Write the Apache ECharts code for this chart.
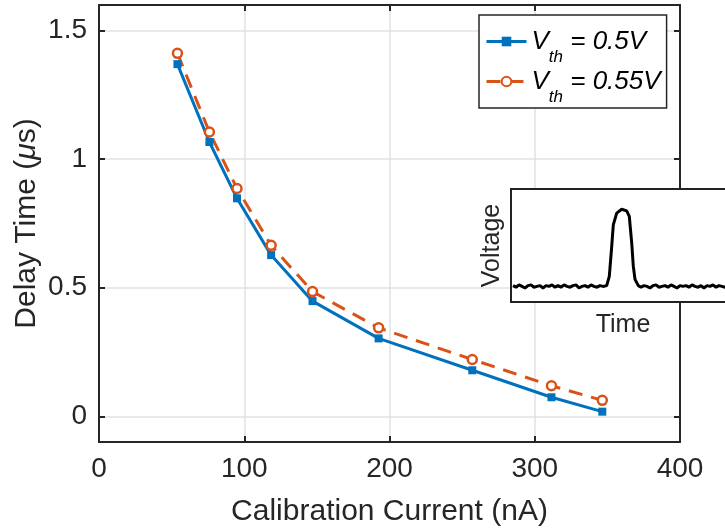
<!DOCTYPE html>
<html>
<head>
<meta charset="utf-8">
<title>Delay time vs calibration current</title>
<script src="https://cdn.jsdelivr.net/npm/echarts@6/dist/echarts.min.js"></script>
<style>
  html, body { margin: 0; padding: 0; background: #fff; }
  #main { width: 725px; height: 529px; }
</style>
</head>
<body>
<div id="main"></div>
<script>
  // calibration current (nA) and delay times (us) for the two thresholds
  var current = [54, 76, 95, 118.5, 147, 192.5, 257, 311.5, 346.5];
  var delay050 = [1.370, 1.067, 0.848, 0.627, 0.448, 0.303, 0.179, 0.074, 0.018];
  var delay055 = [1.412, 1.106, 0.886, 0.665, 0.485, 0.344, 0.221, 0.119, 0.062];
  var seriesNames = ['V_th = 0.5V', 'V_th = 0.55V'];
  var yTicks = [0, 0.5, 1, 1.5];

  // inset: one recorded pulse (arbitrary time / voltage units)
  var pulseTime = [2, 5, 8, 11, 14, 17, 20, 23, 26, 29, 32, 35, 38, 41, 44, 47, 50, 53, 56, 59,
    62, 65, 68, 71, 74, 77, 80, 83, 86, 89, 92, 94,
    95.7, 98.3, 100.7, 102.3, 105.7, 110.7, 115.7, 118.3, 120.7, 122.3, 124, 127.3,
    130, 133, 136, 139, 142, 145, 148, 151, 154, 157, 160, 163, 166, 169, 172, 175,
    178, 181, 184, 187, 190, 193, 196, 199, 202, 205, 208, 211, 214, 217, 220, 223];
  var pulseVolt = [0.01, -0.01, 0.02, 0, -0.02, 0.01, 0.02, -0.01, 0, 0.01, -0.02, 0.01, 0, 0.02, -0.01, 0.01,
    -0.01, 0.02, 0, -0.01, 0.01, 0.02, -0.02, 0, 0.01, -0.01, 0.02, 0, -0.01, 0.01, 0, 0.02,
    0.01, 0.13, 0.51, 0.79, 0.94, 0.99, 0.97, 0.90, 0.56, 0.26, 0.09, 0.01,
    -0.01, 0.01, 0, -0.02, 0.01, 0.02, -0.01, 0, 0.01, -0.01, 0.02, 0, -0.02, 0.01, 0, 0.01,
    -0.01, 0.02, 0, -0.01, 0.01, -0.02, 0.01, 0, 0.02, -0.01, 0.01, 0, -0.01, 0.02, 0, 0.01];

  var font = "'Liberation Sans', Arial, Helvetica, sans-serif";
  var ink = '#262626';

  function pairs(xs, ys) {
    return xs.map(function (x, i) { return [x, ys[i]]; });
  }

  var chart = echarts.init(document.getElementById('main'));

  var frameAxis = {
    axisLine: { show: true, onZero: false, lineStyle: { color: ink, width: 2 } },
    axisTick: { show: true, inside: true, length: 6, lineStyle: { color: ink, width: 2 } },
    axisLabel: { show: false },
    splitLine: { show: false }
  };

  chart.setOption({
    animation: false,
    textStyle: { fontFamily: font },
    grid: [
      { left: 99, top: 5, width: 581, height: 437, containLabel: false, outerBoundsMode: 'none' },
      { left: 511, top: 189, width: 224, height: 113, show: true, z: 10, outerBoundsMode: 'none',
        backgroundColor: '#fff', borderColor: '#222', borderWidth: 2 }
    ],
    xAxis: [
      Object.assign({}, frameAxis, {
        type: 'value', gridIndex: 0, position: 'bottom', min: 0, max: 400, interval: 100,
        axisLabel: { show: true, margin: 13, fontSize: 28, color: ink, fontFamily: font },
        splitLine: { show: true, lineStyle: { color: '#e2e2e2', width: 1.5 } },
        name: 'Calibration Current (nA)', nameLocation: 'middle', nameGap: 55,
        nameTextStyle: { fontSize: 30, color: ink, fontFamily: font }
      }),
      Object.assign({}, frameAxis, {
        type: 'value', gridIndex: 0, position: 'top', min: 0, max: 400, interval: 100
      }),
      {
        type: 'value', gridIndex: 1, min: 0, max: 224, z: 11,
        axisLine: { show: false }, axisTick: { show: false }, axisLabel: { show: false },
        splitLine: { show: false },
        name: 'Time', nameLocation: 'middle', nameGap: 11,
        nameTextStyle: { fontSize: 25, color: ink, fontFamily: font, verticalAlign: 'top' }
      }
    ],
    yAxis: [
      Object.assign({}, frameAxis, {
        type: 'value', gridIndex: 0, position: 'left', min: -0.1, max: 1.6,
        axisTick: { show: true, inside: true, length: 6, customValues: yTicks,
          lineStyle: { color: ink, width: 2 } },
        axisLabel: { show: true, margin: 12, fontSize: 28, color: ink, fontFamily: font,
          customValues: yTicks },
        splitLine: { show: true, lineStyle: { color: '#e2e2e2', width: 1.5 } },
        name: '{a|Delay Time (}{m|μ}{a|s)}', nameLocation: 'middle', nameGap: 57,
        nameMoveOverlap: false,
        nameTextStyle: { fontSize: 30, color: ink, fontFamily: font,
          rich: {
            a: { fontSize: 30, color: ink, fontFamily: font },
            m: { fontSize: 30, color: ink, fontFamily: font, fontStyle: 'italic' }
          } }
      }),
      Object.assign({}, frameAxis, {
        type: 'value', gridIndex: 0, position: 'right', min: -0.1, max: 1.6,
        axisTick: { show: true, inside: true, length: 6, customValues: yTicks,
          lineStyle: { color: ink, width: 2 } }
      }),
      {
        type: 'value', gridIndex: 1, min: -0.2, max: 1.25, z: 11,
        axisLine: { show: false }, axisTick: { show: false }, axisLabel: { show: false },
        splitLine: { show: false },
        name: 'Voltage', nameLocation: 'middle', nameGap: 6,
        nameTextStyle: { fontSize: 25, color: ink, fontFamily: font }
      }
    ],
    legend: {
      left: 479, top: 15, orient: 'vertical',
      padding: [2, 6, 2, 6],
      itemWidth: 40, itemHeight: 12, itemGap: -9,
      backgroundColor: '#fff', borderColor: ink, borderWidth: 1.5, borderRadius: 0,
      data: seriesNames,
      lineStyle: { width: 3 },
      formatter: function (name) {
        return '{v|V}{s|th}{v|' + name.replace('V_th', '') + '}';
      },
      textStyle: {
        color: '#000',
        rich: {
          v: { fontSize: 26, fontStyle: 'italic', fontFamily: font, color: '#000', lineHeight: 30 },
          s: { fontSize: 17, fontStyle: 'italic', fontFamily: font, color: '#000', lineHeight: 17,
            padding: [32, 0, 0, 0] }
        }
      }
    },
    series: [
      {
        name: seriesNames[0], type: 'line', xAxisIndex: 0, yAxisIndex: 0,
        data: pairs(current, delay050),
        symbol: 'rect', symbolSize: 8,
        lineStyle: { color: '#0072BD', width: 3 },
        itemStyle: { color: '#0072BD' }
      },
      {
        name: seriesNames[1], type: 'line', xAxisIndex: 0, yAxisIndex: 0,
        data: pairs(current, delay055),
        symbol: 'circle', symbolSize: 9,
        lineStyle: { color: '#D95319', width: 3, type: [14, 9] },
        itemStyle: { color: '#fff', borderColor: '#D95319', borderWidth: 2.5 }
      },
      {
        name: 'pulse', type: 'line', xAxisIndex: 2, yAxisIndex: 2, z: 12,
        data: pairs(pulseTime, pulseVolt),
        symbol: 'none',
        lineStyle: { color: '#000', width: 3 }
      }
    ]
  });
</script>
</body>
</html>
